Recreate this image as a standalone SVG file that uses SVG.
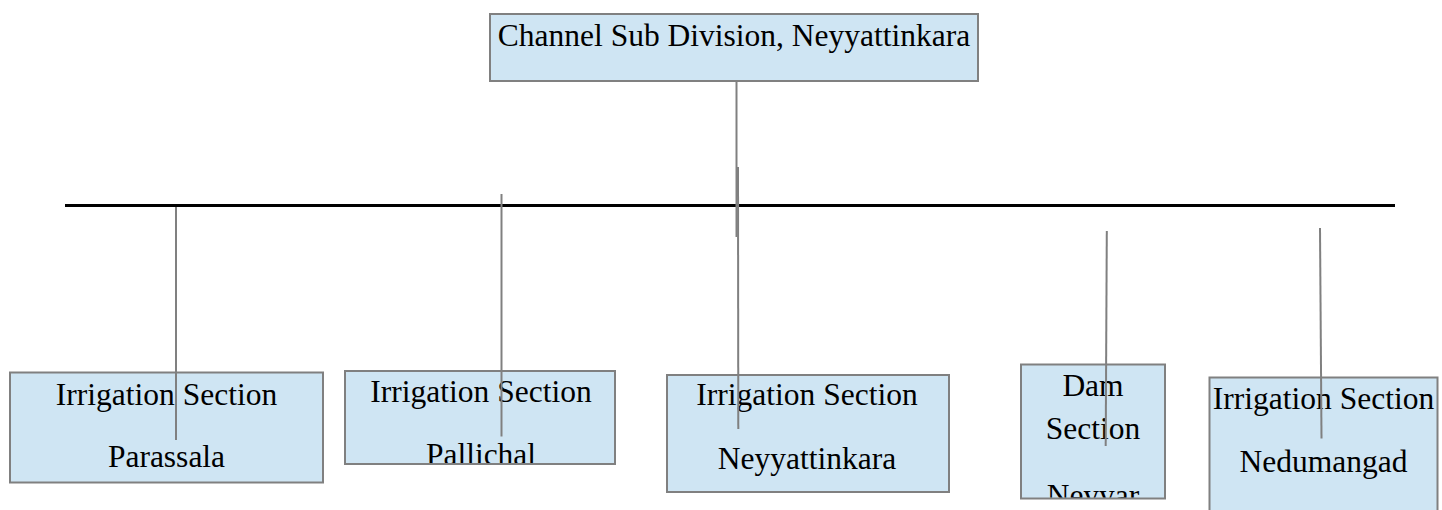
<svg xmlns="http://www.w3.org/2000/svg" width="1442" height="510" viewBox="0 0 1442 510">
<style>
.box{fill:#cfe5f3;stroke:#808080;stroke-width:2}
.t{font-family:"Liberation Serif","Times New Roman",serif;font-size:31.5px;fill:#000;text-anchor:middle}
.c{stroke:#808080;stroke-width:2;fill:none}
</style>
<defs>
<clipPath id="clipPal"><rect x="345" y="371" width="270" height="92"/></clipPath>
<clipPath id="clipDam"><rect x="1021" y="364.5" width="144" height="133"/></clipPath>
</defs>
<rect width="1442" height="510" fill="#fff"/>
<g id="node-top">
<rect class="box" x="490" y="14" width="488" height="67"/>
<text class="t" x="734" y="46">Channel Sub Division, Neyyattinkara</text>
</g>
<g id="node-parassala">
<rect class="box" x="10" y="372.5" width="313" height="110"/>
<text class="t" x="166.5" y="405">Irrigation Section</text>
<text class="t" x="166.5" y="467">Parassala</text>
</g>
<g id="node-pallichal">
<rect class="box" x="345" y="371" width="270" height="93"/>
<g clip-path="url(#clipPal)">
<text class="t" x="481" y="402">Irrigation Section</text>
<text class="t" x="481" y="465">Pallichal</text>
</g>
</g>
<g id="node-neyyattinkara">
<rect class="box" x="667" y="375" width="282" height="117"/>
<text class="t" x="807" y="405">Irrigation Section</text>
<text class="t" x="807" y="468.5">Neyyattinkara</text>
</g>
<g id="node-dam">
<rect class="box" x="1021" y="364.5" width="144" height="134"/>
<g clip-path="url(#clipDam)">
<text class="t" x="1093" y="395.5">Dam</text>
<text class="t" x="1093" y="438.5">Section</text>
<text class="t" x="1093" y="506">Neyyar</text>
</g>
</g>
<g id="node-nedumangad">
<rect class="box" x="1209.5" y="377.5" width="228" height="150"/>
<text class="t" x="1323.5" y="408.5">Irrigation Section</text>
<text class="t" x="1323.5" y="472">Nedumangad</text>
</g>
<g id="connectors">
<line x1="65" y1="205.5" x2="1395" y2="205.5" stroke="#000" stroke-width="3"/>
<line class="c" x1="736.5" y1="81" x2="736.5" y2="237"/>
<line class="c" x1="738" y1="167" x2="738.3" y2="429"/>
<line class="c" x1="176" y1="207" x2="176" y2="440"/>
<line class="c" x1="501.5" y1="194" x2="501.5" y2="436.5"/>
<line class="c" x1="1106.8" y1="231" x2="1105.7" y2="446"/>
<line class="c" x1="1320" y1="228" x2="1321.5" y2="438.5"/>
</g>
</svg>
